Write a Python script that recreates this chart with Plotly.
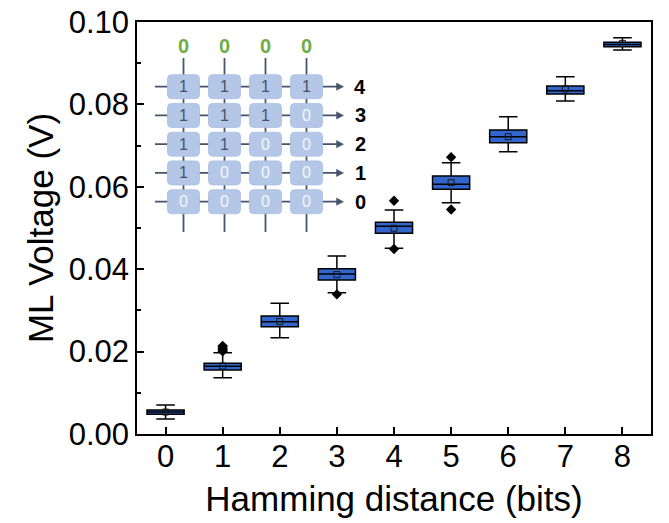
import plotly.graph_objects as go

# ---------------- data ----------------
hamming = [0, 1, 2, 3, 4, 5, 6, 7, 8]
lower_whisker = [0.00364, 0.01367, 0.02338, 0.03430, 0.04510, 0.05614, 0.06852, 0.08083, 0.09320]
q1 = [0.00478, 0.01553, 0.02605, 0.03740, 0.04871, 0.05939, 0.07071, 0.08252, 0.09401]
median = [0.00534, 0.01643, 0.02726, 0.03883, 0.05041, 0.06060, 0.07216, 0.08333, 0.09454]
q3 = [0.00583, 0.01716, 0.02864, 0.04010, 0.05138, 0.06262, 0.07379, 0.08447, 0.09507]
upper_whisker = [0.00704, 0.01973, 0.03172, 0.04320, 0.05437, 0.06585, 0.07702, 0.08673, 0.09619]
mean = [0.00534, 0.01650, 0.02730, 0.03870, 0.04993, 0.06100, 0.07216, 0.08374, 0.09480]

outlier_x = [1, 1, 1, 1, 1, 3, 4, 4, 5, 5]
outlier_y = [0.0201, 0.0204, 0.0207, 0.0211, 0.0214, 0.0339, 0.0566, 0.0449, 0.0672, 0.0545]

# inset diagram content
col_labels = ["0", "0", "0", "0"]
cell_bits = [
    [1, 1, 1, 1],
    [1, 1, 1, 0],
    [1, 1, 0, 0],
    [1, 0, 0, 0],
    [0, 0, 0, 0],
]
row_labels = ["4", "3", "2", "1", "0"]

FONT = "Liberation Sans, Arial, sans-serif"
BOX_FILL = "#3366CC"

fig = go.Figure()

fig.add_trace(go.Box(
    x=hamming, q1=q1, median=median, q3=q3,
    lowerfence=lower_whisker, upperfence=upper_whisker,
    width=0.65, whiskerwidth=0.5,
    fillcolor=BOX_FILL, line=dict(color="black", width=1.5),
    boxpoints=False, hoverinfo="skip",
))

fig.add_trace(go.Scatter(
    x=hamming, y=mean, mode="markers",
    marker=dict(symbol="square-open", size=6, color="#1a1a1a", line=dict(width=1)),
    hoverinfo="skip",
))

fig.add_trace(go.Scatter(
    x=outlier_x, y=outlier_y, mode="markers",
    marker=dict(symbol="diamond", size=8, color="black"),
    hoverinfo="skip",
))

# invisible trace on overlay axes used for the inset drawing (pixel-like coords)
fig.add_trace(go.Scatter(x=[None], y=[None], xaxis="x2", yaxis="y2", hoverinfo="skip"))

# ---------------- inset diagram ----------------
LINE_C = "#44546A"
CELL_C = "#B4C7E7"
col_x0, col_dx = 183.5, 41.0
row_y0, row_dy = 86.7, 28.75
hw, hh, rr = 16.0, 12.0, 4.0
shapes = []
annots = []

ncol = len(col_labels)
nrow = len(cell_bits)
cols = [col_x0 + col_dx * j for j in range(ncol)]
rows = [row_y0 + row_dy * i for i in range(nrow)]

# vertical lines
for cx in cols:
    shapes.append(dict(type="line", xref="x2", yref="y2", x0=cx, x1=cx, y0=58, y1=232,
                       line=dict(color=LINE_C, width=1.8), layer="above"))
# horizontal lines with arrows
line_x_start, arrow_tip = 155.0, 343.5
for ry in rows:
    shapes.append(dict(type="line", xref="x2", yref="y2", x0=line_x_start, x1=arrow_tip - 5, y0=ry, y1=ry,
                       line=dict(color=LINE_C, width=1.8), layer="above"))
    shapes.append(dict(type="path", xref="x2", yref="y2",
                       path=f"M {arrow_tip-7},{ry-3.6} L {arrow_tip},{ry} L {arrow_tip-7},{ry+3.6} Z",
                       fillcolor=LINE_C, line=dict(color=LINE_C, width=0.5), layer="above"))

# cells
def rounded_rect(cx, cy):
    x0, x1, y0, y1 = cx - hw, cx + hw, cy - hh, cy + hh
    return (f"M {x0+rr},{y0} L {x1-rr},{y0} Q {x1},{y0} {x1},{y0+rr} "
            f"L {x1},{y1-rr} Q {x1},{y1} {x1-rr},{y1} L {x0+rr},{y1} "
            f"Q {x0},{y1} {x0},{y1-rr} L {x0},{y0+rr} Q {x0},{y0} {x0+rr},{y0} Z")

for i, ry in enumerate(rows):
    for j, cx in enumerate(cols):
        shapes.append(dict(type="path", xref="x2", yref="y2", path=rounded_rect(cx, ry),
                           fillcolor=CELL_C, line=dict(color="#A9BEE3", width=0.8), layer="above"))
        b = cell_bits[i][j]
        annots.append(dict(xref="x2", yref="y2", x=cx, y=ry, text=str(b), showarrow=False,
                           font=dict(family=FONT, size=16, color=("#44546A" if b == 1 else "#F4F7FC"))))
    annots.append(dict(xref="x2", yref="y2", x=360, y=ry, text=f"<b>{row_labels[i]}</b>", showarrow=False,
                       font=dict(family=FONT, size=20, color="black")))

for j, cx in enumerate(cols):
    annots.append(dict(xref="x2", yref="y2", x=cx, y=46, text=f"<b>{col_labels[j]}</b>", showarrow=False,
                       font=dict(family=FONT, size=20, color="#70AD47")))

# ---------------- layout ----------------
axis_common = dict(showline=True, linecolor="black", linewidth=1.5, mirror=True,
                   ticks="inside", ticklen=7, tickwidth=1.5, tickcolor="black",
                   showgrid=False, zeroline=False, automargin=False,
                   tickfont=dict(family=FONT, size=31, color="black"))

fig.update_layout(
    width=669, height=523,
    margin=dict(l=137, r=18, t=22, b=89, autoexpand=False),
    plot_bgcolor="white", paper_bgcolor="white",
    showlegend=False,
    font=dict(family=FONT, color="black"),
    xaxis=dict(range=[-0.5, 8.5], tickvals=hamming, ticktext=[str(h) for h in hamming],
               ticklabelstandoff=-6,
               title=dict(text="Hamming distance (bits)", font=dict(family=FONT, size=35), standoff=14),
               **axis_common),
    yaxis=dict(range=[0, 0.1], dtick=0.02, tickformat=".2f",
               minor=dict(ticks="inside", ticklen=4, dtick=0.01, tickcolor="black", tickwidth=1.5),
               title=dict(text="ML Voltage (V)", font=dict(family=FONT, size=35), standoff=4),
               **axis_common),
    xaxis2=dict(range=[137, 651], overlaying="x", anchor="y2", visible=False, fixedrange=True),
    yaxis2=dict(range=[434, 22], overlaying="y", anchor="x2", visible=False, fixedrange=True),
    shapes=shapes,
    annotations=annots,
)

fig.write_html("out.html")
